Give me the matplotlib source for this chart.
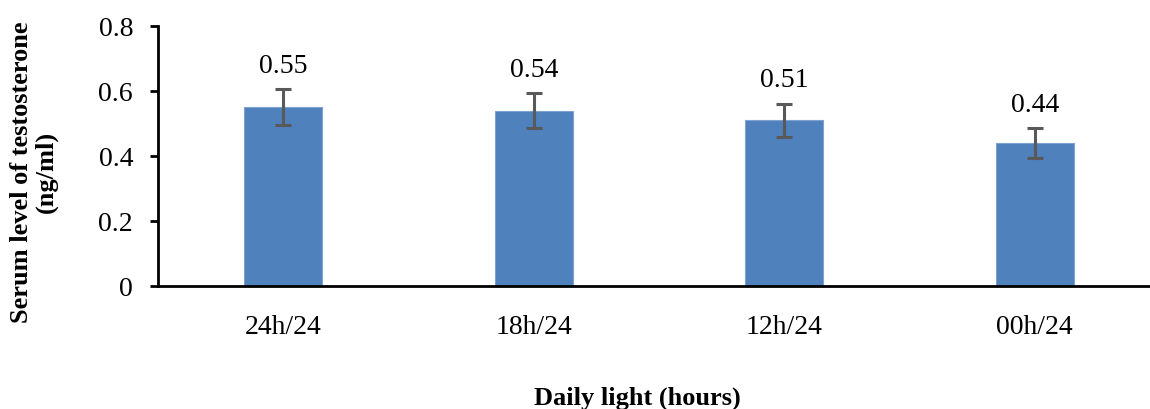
import matplotlib.pyplot as plt
import numpy as np

plt.rcParams['font.family'] = ['Liberation Serif', 'DejaVu Serif']

groups = ['24h/24', '18h/24', '12h/24', '00h/24']
testo = [0.55, 0.54, 0.51, 0.44]
err = [0.055, 0.053, 0.051, 0.045]

f = plt.figure(figsize=(11.5, 4.1), dpi=100)
ax = f.add_axes([158/1150, 1-287/410, 1002/1150, 260/410])

x = np.arange(len(groups))
ax.bar(x, testo, width=0.31, color='#4F81BD', edgecolor='#7FA2D0', lw=0.8, zorder=2)
ax.errorbar(x, testo, yerr=err, fmt='none', ecolor='#595959', elinewidth=2.2,
            capsize=6, capthick=2.2, zorder=3)
for xi, v, e in zip(x, testo, err):
    ax.text(xi, v + e + 0.035, '%.2f' % v, ha='center', va='bottom', fontsize=20)

ax.set_xlim(-0.5, 3.5)
ax.set_ylim(0, 0.8)
ax.set_yticks([0, 0.2, 0.4, 0.6, 0.8])
ax.set_yticklabels(['0', '0.2', '0.4', '0.6', '0.8'])
ax.set_xticks(x)
ax.set_xticklabels(groups)
ax.tick_params(axis='y', direction='out', length=6, width=2, labelsize=20, pad=12)
ax.tick_params(axis='x', length=0, labelsize=20, pad=20)
for s in ['top', 'right']:
    ax.spines[s].set_visible(False)
ax.spines['left'].set_linewidth(2)
ax.spines['bottom'].set_linewidth(2)

f.text(637/1150, 1-398/410, 'Daily light (hours)', ha='center', va='center',
       fontsize=19, fontweight='bold')
f.text(22/1150, 1-172/410, 'Serum level of testosterone', rotation=90,
       ha='center', va='center', fontsize=19, fontweight='bold')
f.text(46/1150, 1-172/410, '(ng/ml)', rotation=90,
       ha='center', va='center', fontsize=19, fontweight='bold')

f.savefig('out.png', dpi=100)
